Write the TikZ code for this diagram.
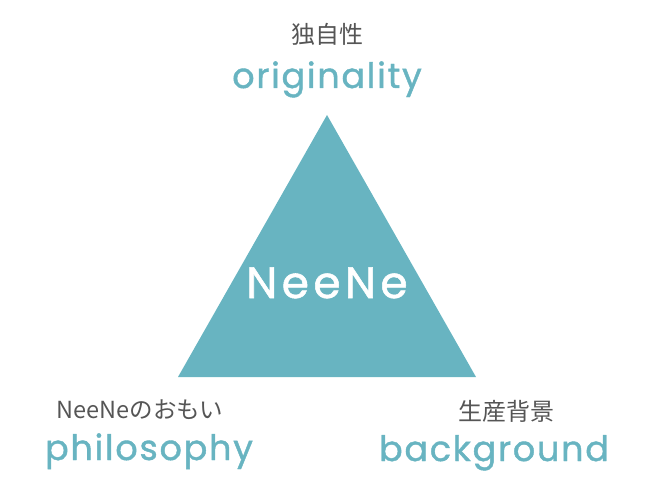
\documentclass[tikz,border=0pt]{standalone}
\usepackage{fontspec}
\setmainfont{Poppins}
\newfontfamily\jpfont{Noto Sans CJK JP}
\newfontfamily\enfont[LetterSpace=5, FakeBold=1.2]{Poppins}
\newfontfamily\logofont[LetterSpace=10, FakeBold=1.2]{Poppins}
\definecolor{neeneteal}{HTML}{68B4C1}
\definecolor{jpgray}{HTML}{555555}

\begin{document}
\begin{tikzpicture}[x=1pt, y=-1pt,
    enword/.style={text=neeneteal, font=\enfont\fontsize{35}{35}\selectfont, anchor=base, inner sep=0pt},
    jpword/.style={text=jpgray, font=\jpfont\fontsize{24}{24}\selectfont, anchor=base, inner sep=0pt}]
        \useasboundingbox (0,0) rectangle (650,497);
        \coordinate (top) at (327,115);
        \coordinate (left) at (178,377);
        \coordinate (right) at (476,377);
        \fill[neeneteal] (top)--(left)--(right)--cycle;
        \node[anchor=base, inner sep=0pt, text=white, font=\logofont\fontsize{44}{44}\selectfont] (brand) at (327,298) {NeeNe};
        \node[jpword] (jpTop) at (327,44) {独自性};
        \node[enword] (enTop) at (327,88) {originality};
        \node[jpword, font=\jpfont\fontsize{23.5}{23.5}\selectfont] (jpLeft) at (140,418) {NeeNeのおもい};
        \node[enword] (enLeft) at (149,460) {philosophy};
        \node[jpword] (jpRight) at (506,420) {生産背景};
        \node[enword] (enRight) at (494,461) {background};
    \end{tikzpicture}
\end{document}
